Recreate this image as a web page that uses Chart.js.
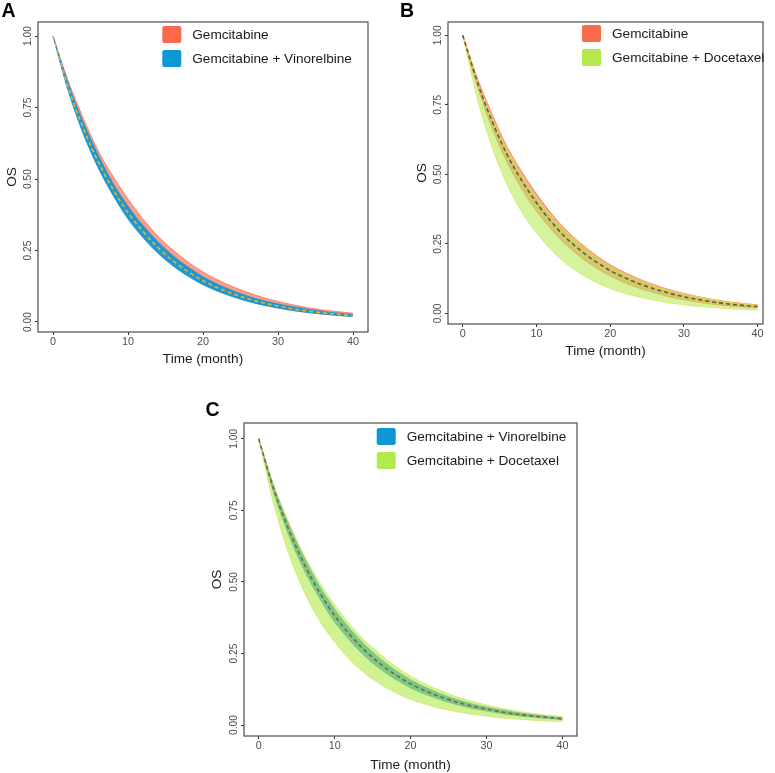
<!DOCTYPE html>
<html>
<head>
<meta charset="utf-8">
<script src="https://cdn.jsdelivr.net/npm/chart.js@4.4.0/dist/chart.umd.min.js"></script>
<style>
body{margin:0;background:#fff;width:775px;height:773px;position:relative;overflow:hidden;font-family:"Liberation Sans",Arial,sans-serif}
canvas{position:absolute}
.tag{position:absolute;font-weight:bold;font-size:19.5px;line-height:1;color:#000;z-index:2}
</style>
</head>
<body>
<canvas id="chartA" width="385" height="375" style="left:0;top:0"></canvas>
<canvas id="chartB" width="385" height="375" style="left:390px;top:0"></canvas>
<canvas id="chartC" width="400" height="393" style="left:190px;top:380px"></canvas>
<div class="tag" style="left:1.5px;top:1px">A</div>
<div class="tag" style="left:400px;top:1px">B</div>
<div class="tag" style="left:205.5px;top:400px">C</div>
<script>
// months on the x axis, survival
const months = [0,2,4,6,8,10,12,14,16,18,20,22,24,26,28,30,32,34,36,38,40];
const xTicks = [0,10,20,30,40];
const yTicks = [0,0.25,0.5,0.75,1];
const yTickLabels = ['0.00','0.25','0.50','0.75','1.00'];
const seriesNames = ['Gemcitabine','Gemcitabine + Vinorelbine','Gemcitabine + Docetaxel'];
const seriesColors = ['#FC6A4C','#0E97D6','#B3EA4B'];

const gemUpper  = [1.00,0.845,0.715,0.600,0.510,0.430,0.360,0.300,0.252,0.210,0.175,0.147,0.123,0.103,0.086,0.072,0.060,0.050,0.042,0.036,0.031];
const gemLower  = [1.00,0.815,0.665,0.545,0.448,0.368,0.302,0.247,0.202,0.165,0.135,0.110,0.090,0.074,0.060,0.049,0.040,0.033,0.027,0.023,0.020];
const vinoUpper = [1.00,0.835,0.700,0.585,0.485,0.405,0.337,0.280,0.232,0.192,0.158,0.131,0.109,0.090,0.075,0.063,0.053,0.044,0.037,0.031,0.026];
const vinoLower = [1.00,0.810,0.660,0.540,0.443,0.360,0.295,0.240,0.196,0.160,0.130,0.107,0.088,0.072,0.059,0.049,0.040,0.033,0.028,0.023,0.019];
const doceUpper = [1.00,0.835,0.705,0.592,0.500,0.420,0.352,0.295,0.248,0.206,0.171,0.143,0.120,0.100,0.084,0.070,0.059,0.049,0.041,0.035,0.030];
const doceLower = [1.00,0.770,0.595,0.465,0.365,0.290,0.228,0.180,0.143,0.113,0.090,0.072,0.058,0.047,0.038,0.031,0.025,0.021,0.017,0.014,0.012];
const gemMid    = [1.00,0.830,0.690,0.572,0.478,0.398,0.330,0.272,0.226,0.187,0.154,0.128,0.106,0.088,0.073,0.060,0.050,0.041,0.034,0.029,0.025];
const vinoMid   = [1.00,0.822,0.680,0.562,0.464,0.382,0.316,0.260,0.214,0.176,0.144,0.119,0.098,0.081,0.067,0.056,0.046,0.038,0.032,0.027,0.022];

const pts = vals => months.map((m, i) => ({x: m, y: vals[i]}));

function bandSets(upper, lower, fill, edge) {
  return [
    {data: pts(upper), backgroundColor: fill, borderColor: edge, borderWidth: 0.8, fill: '+1'},
    {data: pts(lower), borderColor: edge, borderWidth: 0.8, fill: false}
  ];
}
function dashSet(vals, color) {
  return {data: pts(vals), borderColor: color, borderWidth: 1.6, borderDash: [4, 3], fill: false};
}

const frame = {
  id: 'frame',
  afterDraw(chart) {
    const {ctx, chartArea: a} = chart;
    ctx.save();
    ctx.strokeStyle = '#5a5a5a';
    ctx.lineWidth = 1.3;
    ctx.strokeRect(a.left, a.top, a.right - a.left, a.bottom - a.top);
    ctx.restore();
  }
};

function insideLegend(dx, dy, keys) {
  return {
    id: 'insideLegend',
    afterDraw(chart) {
      const {ctx, chartArea: a} = chart;
      ctx.save();
      ctx.font = '13.6px "Liberation Sans", Arial, sans-serif';
      ctx.textBaseline = 'middle';
      keys.forEach((k, i) => {
        const x = a.left + dx, y = a.top + dy + i * 24;
        ctx.fillStyle = seriesColors[k];
        ctx.beginPath();
        ctx.roundRect(x, y, 19, 17, 2);
        ctx.fill();
        ctx.fillStyle = '#1a1a1a';
        ctx.fillText(seriesNames[k], x + 30, y + 9);
      });
      ctx.restore();
    }
  };
}

function panel(id, sets, box, legend) {
  return new Chart(document.getElementById(id), {
    type: 'line',
    data: {datasets: sets},
    options: {
      responsive: false,
      animation: false,
      layout: {padding: {top: box.top, right: box.right, left: 0, bottom: 0}},
      elements: {point: {radius: 0}, line: {cubicInterpolationMode: 'monotone'}},
      plugins: {legend: {display: false}, tooltip: {enabled: false}},
      scales: {
        x: {
          type: 'linear', min: box.xMin, max: box.xMax,
          afterBuildTicks: s => { s.ticks = xTicks.map(v => ({value: v})); },
          afterFit: s => { s.height = box.xh; },
          grid: {drawOnChartArea: false, tickLength: 3, color: '#333'},
          border: {display: false},
          ticks: {padding: 0.5, color: '#4d4d4d', font: {size: 10.8}, callback: v => String(v)},
          title: {display: true, text: 'Time (month)', color: '#1a1a1a', font: {size: 13.6}, padding: {top: 0, bottom: box.tp}}
        },
        y: {
          type: 'linear', min: box.yMin, max: box.yMax,
          afterBuildTicks: s => { s.ticks = yTicks.map(v => ({value: v})); },
          afterFit: s => { s.width = box.yw; },
          grid: {drawOnChartArea: false, tickLength: 3, color: '#333'},
          border: {display: false},
          ticks: {padding: -3.5, minRotation: 90, maxRotation: 90, crossAlign: 'center', color: '#4d4d4d', font: {size: 10.2},
            callback: v => yTickLabels[yTicks.indexOf(v)]},
          title: {display: true, text: 'OS', color: '#1a1a1a', font: {size: 13.6}, padding: {top: box.op, bottom: 0}}
        }
      }
    },
    plugins: [frame, insideLegend(legend.dx, legend.dy, legend.keys)]
  });
}

panel('chartA', [
  dashSet(vinoMid, '#E3B52E'),
  ...bandSets(vinoUpper, vinoLower, 'rgba(14,151,214,0.92)', 'rgba(14,151,214,1)'),
  ...bandSets(gemUpper, gemLower, 'rgba(252,106,76,0.65)', 'rgba(252,106,76,0.9)')
], {top: 22, right: 17, yw: 38, xh: 43, xMin: -2, xMax: 42, yMin: -0.035, yMax: 1.049, tp: 7.8, op: 3.8},
   {dx: 124.3, dy: 4, keys: [0, 1]});

panel('chartB', [
  dashSet(gemMid, '#645C40'),
  ...bandSets(doceUpper, doceLower, 'rgba(179,234,75,0.55)', 'rgba(225,225,70,0.8)'),
  ...bandSets(gemUpper, gemLower, 'rgba(252,106,76,0.62)', 'rgba(252,106,76,0.9)')
], {top: 22, right: 12, yw: 58, xh: 51, xMin: -2, xMax: 40.73, yMin: -0.038, yMax: 1.048, tp: 15.8, op: 23.8},
   {dx: 134, dy: 3, keys: [0, 2]});

panel('chartC', [
  dashSet(vinoMid, '#8F5B4B'),
  ...bandSets(doceUpper, doceLower, 'rgba(179,234,75,0.6)', 'rgba(225,225,70,0.8)'),
  ...bandSets(vinoUpper, vinoLower, 'rgba(14,151,214,0.9)', 'rgba(14,151,214,1)')
], {top: 43, right: 13, yw: 54, xh: 37, xMin: -1.93, xMax: 41.9, yMin: -0.038, yMax: 1.055, tp: 0, op: 18.6},
   {dx: 132.7, dy: 5, keys: [1, 2]});
</script>
</body>
</html>
